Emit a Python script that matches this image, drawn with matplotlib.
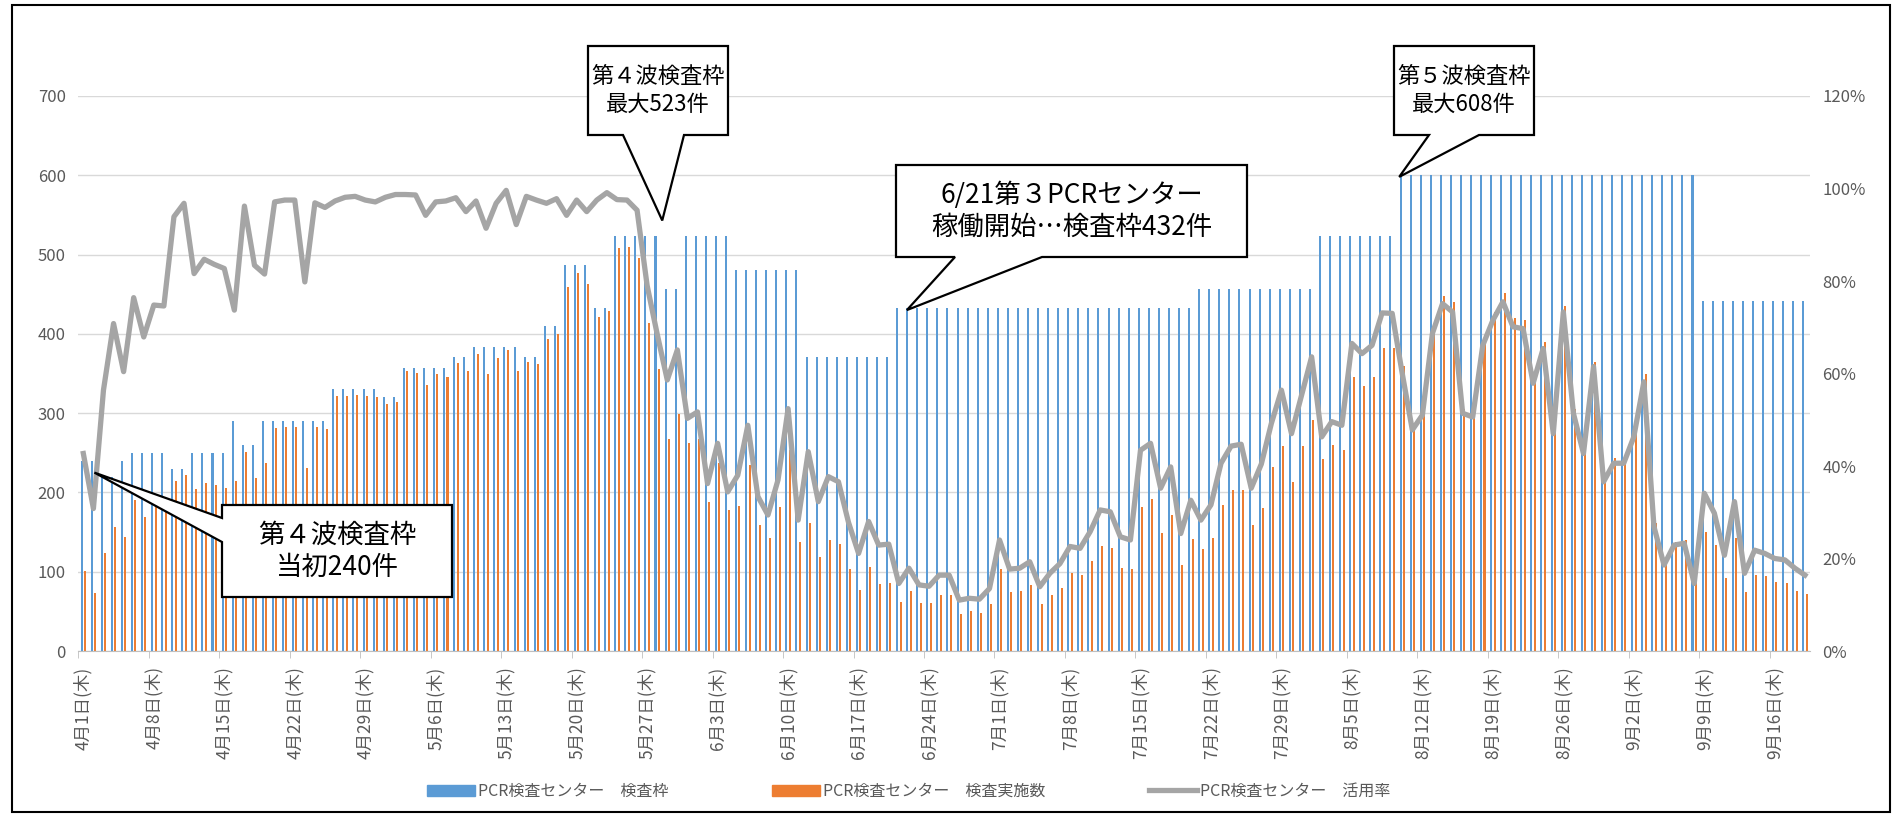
import numpy as np
import matplotlib.pyplot as plt
from matplotlib.patches import Patch, Polygon, Rectangle
from matplotlib.lines import Line2D
from matplotlib.ticker import PercentFormatter

plt.rcParams['font.family'] = ['Noto Sans CJK JP', 'DejaVu Sans']

# daily values, 2021-04-01 .. 2021-09-19 (172 days)
capacity = [
    240, 240, 220, 220, 240, 250, 250, 250, 250, 230,
    230, 250, 250, 250, 250, 290, 260, 260, 290, 290,
    290, 290, 290, 290, 290, 330, 330, 330, 330, 330,
    320, 320, 357, 357, 357, 357, 357, 371, 371, 383,
    383, 383, 383, 383, 371, 371, 410, 410, 487, 487,
    487, 433, 433, 523, 523, 523, 523, 523, 456, 456,
    523, 523, 523, 523, 523, 480, 480, 480, 480, 480,
    480, 480, 371, 371, 371, 371, 371, 371, 371, 371,
    371, 432, 432, 432, 432, 432, 432, 432, 432, 432,
    432, 432, 432, 432, 432, 432, 432, 432, 432, 432,
    432, 432, 432, 432, 432, 432, 432, 432, 432, 432,
    432, 456, 456, 456, 456, 456, 456, 456, 456, 456,
    456, 456, 456, 523, 523, 523, 523, 523, 523, 523,
    523, 600, 600, 600, 600, 600, 600, 600, 600, 600,
    600, 600, 600, 600, 600, 600, 600, 600, 600, 600,
    600, 600, 600, 600, 600, 600, 600, 600, 600, 600,
    600, 442, 442, 442, 442, 442, 442, 442, 442, 442,
    442, 442,
]

tested = [
    101, 73, 124, 156, 144, 190, 169, 187, 186, 215,
    222, 204, 212, 209, 205, 214, 251, 218, 237, 281,
    283, 283, 231, 283, 280, 321, 322, 323, 321, 320,
    312, 314, 353, 351, 335, 349, 346, 363, 353, 374,
    350, 370, 380, 353, 365, 362, 394, 400, 459, 477,
    463, 421, 429, 508, 510, 496, 414, 356, 268, 299,
    262, 268, 188, 237, 178, 183, 234, 159, 142, 181,
    253, 137, 161, 119, 140, 135, 103, 77, 106, 84,
    86, 62, 76, 60, 61, 71, 71, 47, 50, 48,
    59, 103, 74, 76, 83, 59, 71, 80, 98, 96,
    113, 132, 130, 105, 103, 182, 192, 149, 171, 108,
    141, 129, 142, 184, 203, 203, 159, 180, 232, 258,
    213, 258, 291, 242, 260, 254, 346, 334, 345, 382,
    382, 360, 287, 306, 412, 448, 440, 305, 300, 395,
    428, 452, 420, 418, 345, 390, 280, 435, 305, 255,
    365, 218, 243, 243, 278, 349, 161, 112, 137, 140,
    88, 150, 134, 92, 142, 75, 96, 94, 87, 86,
    76, 72,
]

usage = [
    42.7, 30.8, 56.4, 70.8, 60.4, 76.4, 67.9, 74.8, 74.6, 93.9,
    96.8, 81.6, 84.7, 83.6, 82.7, 73.7, 96.2, 83.4, 81.5, 97.1,
    97.5, 97.5, 79.8, 96.9, 95.9, 97.3, 98.1, 98.3, 97.5, 97.1,
    98.1, 98.7, 98.7, 98.6, 94.2, 97.1, 97.3, 98.0, 95.0, 97.3,
    91.4, 96.8, 99.6, 92.2, 98.3, 97.5, 96.8, 97.8, 94.2, 97.5,
    95.0, 97.5, 99.1, 97.6, 97.5, 95.3, 79.0, 68.5, 58.6, 65.1,
    50.3, 51.7, 36.2, 44.9, 34.4, 38.0, 48.8, 33.4, 29.4, 37.0,
    52.4, 28.3, 43.1, 32.3, 37.7, 36.6, 27.8, 21.1, 28.0, 22.9,
    23.1, 14.6, 17.9, 14.3, 14.0, 16.4, 16.4, 11.0, 11.4, 11.2,
    13.5, 24.0, 17.7, 17.9, 19.3, 13.9, 16.8, 18.9, 22.6, 22.2,
    25.8, 30.5, 30.1, 24.7, 24.0, 43.4, 44.9, 35.2, 39.8, 25.4,
    32.6, 28.3, 31.6, 40.6, 44.3, 44.7, 35.2, 40.4, 49.2, 56.4,
    47.0, 55.3, 63.6, 46.3, 49.6, 48.8, 66.5, 64.3, 66.1, 73.1,
    73.0, 60.0, 47.8, 51.0, 68.7, 75.1, 73.3, 51.4, 50.6, 66.1,
    71.5, 75.5, 70.1, 69.7, 57.9, 65.4, 47.0, 73.3, 51.4, 42.7,
    61.5, 36.6, 40.6, 40.6, 46.3, 58.2, 26.9, 18.6, 22.9, 23.3,
    14.6, 34.1, 29.8, 20.7, 32.3, 16.8, 21.8, 21.1, 20.0, 19.7,
    17.9, 16.4,
]

tick_labels = [
    '4月1日(木)', '4月8日(木)', '4月15日(木)', '4月22日(木)', '4月29日(木)',
    '5月6日(木)', '5月13日(木)', '5月20日(木)', '5月27日(木)', '6月3日(木)',
    '6月10日(木)', '6月17日(木)', '6月24日(木)', '7月1日(木)', '7月8日(木)',
    '7月15日(木)', '7月22日(木)', '7月29日(木)', '8月5日(木)', '8月12日(木)',
    '8月19日(木)', '8月26日(木)', '9月2日(木)', '9月9日(木)', '9月16日(木)',
]

series_names = ['PCR検査センター　検査枠', 'PCR検査センター　検査実施数', 'PCR検査センター　活用率']

W, H = 1897, 816
blue, orange, gray = '#5B9BD5', '#ED7D31', '#A5A5A5'
txt = '#595959'

days = np.arange(len(capacity))

fig = plt.figure(figsize=(W / 100, H / 100), dpi=100)
ax = fig.add_axes([78.3 / W, 1 - 651 / H, (1810 - 78.3) / W, (651 - 96) / H])

ax.bar(days - 0.17, capacity, width=0.2, color=blue, zorder=2)
ax.bar(days + 0.17, tested, width=0.2, color=orange, zorder=2)
ax.set_xlim(-0.5, len(days) - 0.5)
ax.set_ylim(0, 700)
ax.set_yticks(range(0, 701, 100))
ax.grid(axis='y', color='#D9D9D9', lw=1, zorder=0)
ax.set_axisbelow(True)
for s in ['top', 'left', 'right']:
    ax.spines[s].set_visible(False)
ax.spines['bottom'].set_color('#BFBFBF')
ax.tick_params(axis='y', length=0, pad=9, labelsize=12, labelcolor=txt)

ax.set_xticks(days[::7])
ax.set_xticklabels(tick_labels, rotation=90)
ax.set_xticks(np.arange(-0.5, len(days), 7), minor=True)
ax.tick_params(axis='x', which='major', length=0, pad=11, labelsize=12.5, labelcolor=txt)
ax.tick_params(axis='x', which='minor', length=5, color='#BFBFBF')

ax2 = ax.twinx()
ax2.plot(days, np.array(usage) / 100, color=gray, lw=3.8, solid_joinstyle='round', zorder=3)
ax2.set_ylim(0, 1.2)
ax2.set_yticks(np.arange(0, 1.21, 0.2))
ax2.yaxis.set_major_formatter(PercentFormatter(1.0, decimals=0))
for s in ['top', 'left', 'right', 'bottom']:
    ax2.spines[s].set_visible(False)
ax2.tick_params(axis='y', length=0, pad=9, labelsize=12, labelcolor=txt)

handles = [Patch(color=blue), Patch(color=orange), Line2D([], [], color=gray, lw=3.8)]
leg = fig.legend(handles, series_names, loc='center', bbox_to_anchor=(0.479, 0.03),
                 ncol=3, frameon=False, fontsize=11.5, handlelength=3.0, handleheight=0.7,
                 handletextpad=0.2, columnspacing=6.5)
for t in leg.get_texts():
    t.set_color(txt)


def to_fig(x, y):
    return (x / W, 1 - y / H)


def callout(text, box, edge, base, tip, size):
    x0, y0, x1, y1 = box
    tx, ty = fig.transFigure.inverted().transform(ax.transData.transform(tip))
    if edge == 'bottom':
        pts = [to_fig(x0, y0), to_fig(x1, y0), to_fig(x1, y1), to_fig(base[1], y1),
               (tx, ty), to_fig(base[0], y1), to_fig(x0, y1)]
    else:
        pts = [to_fig(x0, y0), to_fig(x1, y0), to_fig(x1, y1), to_fig(x0, y1),
               to_fig(x0, base[1]), (tx, ty), to_fig(x0, base[0])]
    fig.add_artist(Polygon(pts, closed=True, transform=fig.transFigure,
                           facecolor='white', edgecolor='black', lw=1.6, zorder=5))
    cx, cy = to_fig((x0 + x1) / 2, (y0 + y1) / 2)
    fig.text(cx, cy, text, ha='center', va='center', fontsize=size,
             linespacing=1.25, color='black', zorder=6)


callout('第４波検査枠\n当初240件', (222, 505, 452, 597), 'left', (518, 542), (1.1, 225), 19)
callout('第４波検査枠\n最大523件', (588, 46, 728, 135), 'bottom', (623, 684), (57.5, 543), 16)
callout('6/21第３PCRセンター\n稼働開始…検査枠432件', (896, 165, 1247, 257), 'bottom', (955, 1042), (81.8, 430), 19)
callout('第５波検査枠\n最大608件', (1394, 46, 1534, 135), 'bottom', (1429, 1479), (130.7, 598), 16)

fig.add_artist(Rectangle((12 / W, 1 - 812 / H), (1890 - 12) / W, (812 - 5) / H,
                         transform=fig.transFigure, fill=False, ec='black', lw=1.5))

fig.savefig('out.png', dpi=100)
